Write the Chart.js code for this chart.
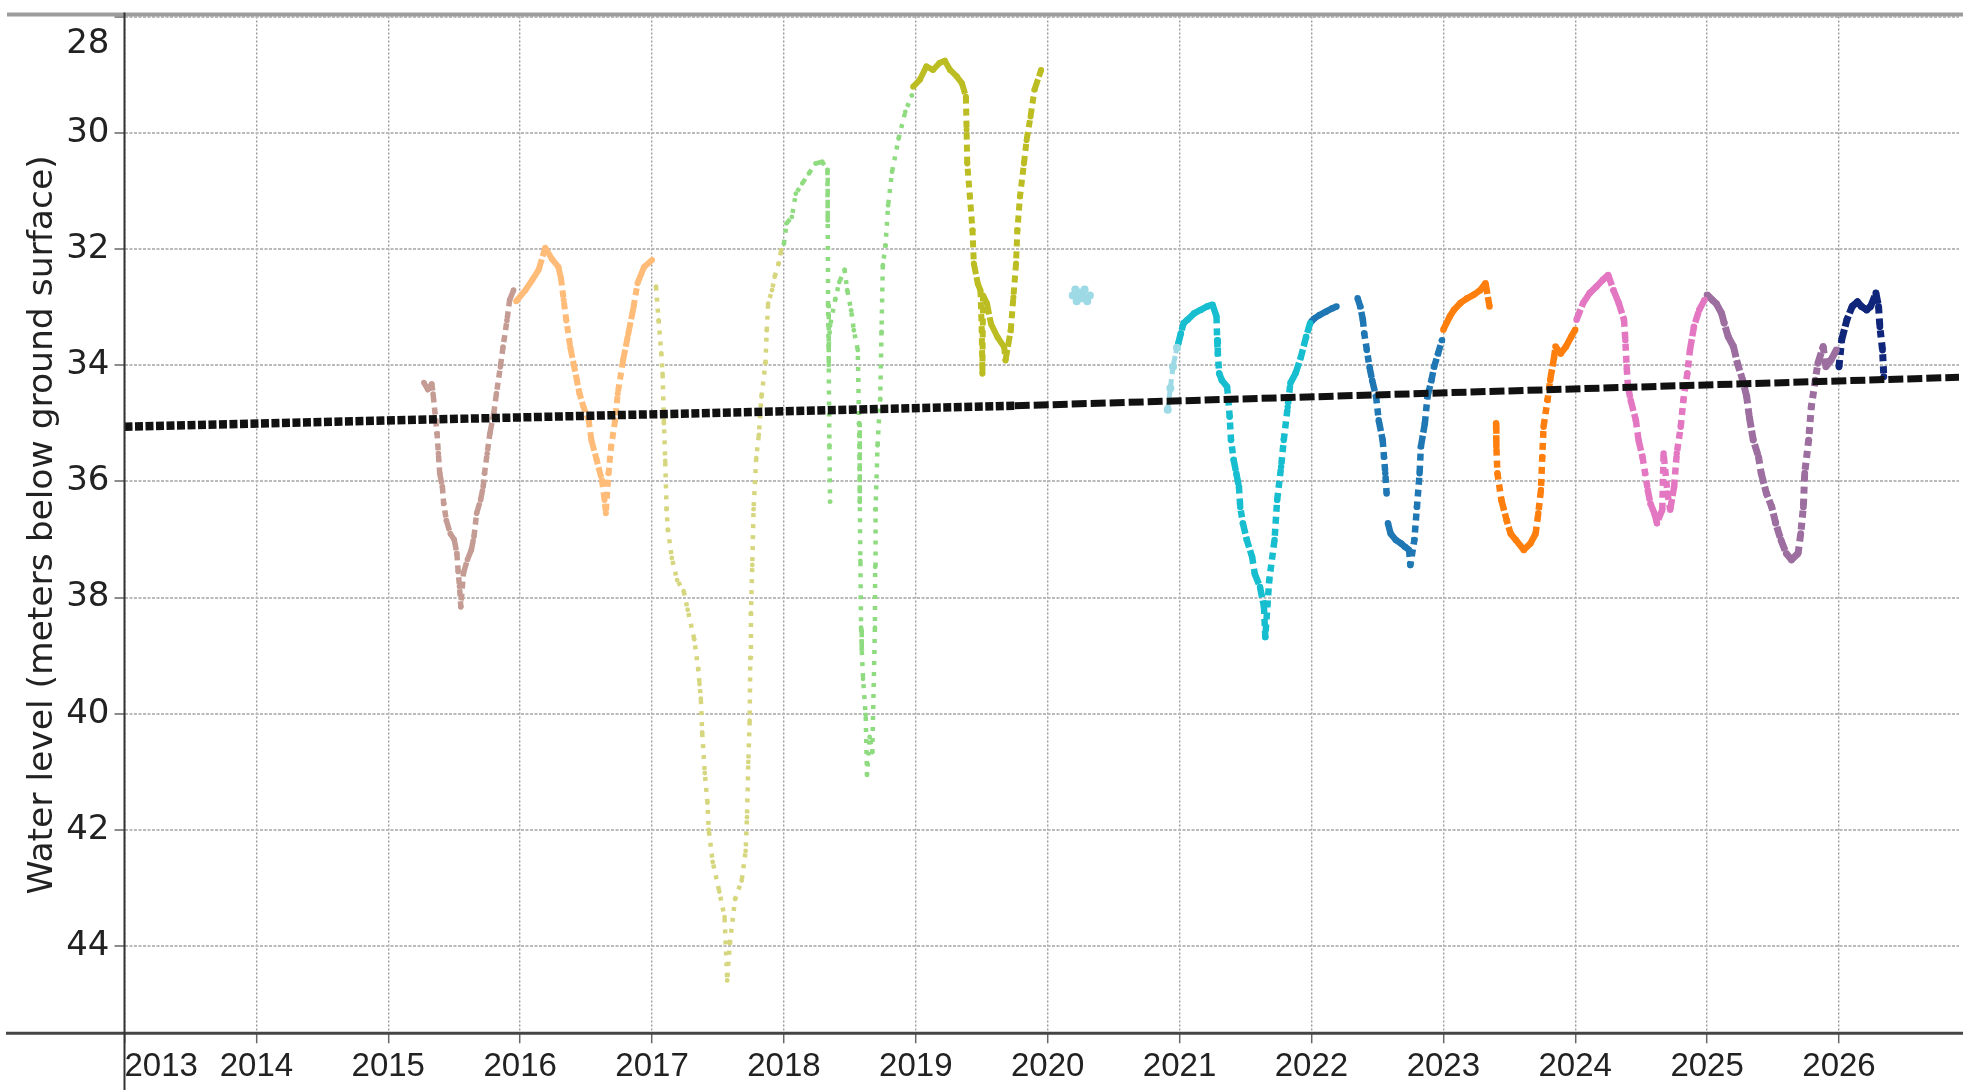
<!DOCTYPE html>
<html>
<head>
<meta charset="utf-8">
<title>Water level</title>
<script src="https://cdn.jsdelivr.net/npm/chart.js@4.4.1/dist/chart.umd.min.js"></script>
<style>
  html, body { margin: 0; padding: 0; background: #ffffff; }
  #chart { display: block; }
</style>
</head>
<body>
<canvas id="chart" width="1963" height="1090"></canvas>
<script>
// ---- axis ticks ----
const yearTicks = [2013, 2014, 2015, 2016, 2017, 2018, 2019, 2020, 2021, 2022, 2023, 2024, 2025, 2026];
const depthTicks = [28, 30, 32, 34, 36, 38, 40, 42, 44];
const yearMin = 2013, yearMax = 2026.91;
const depthTop = 28, depthBottom = 45.5;
const yTitle = 'Water level (meters below ground surface)';

// ---- long-term trend ----
const trendYear  = [2013, 2019.75, 2026.91];
const trendDepth = [35.06, 34.70, 34.21];

// ---- measured water levels by year (null = gap in the record) ----
const wy2015Year  = [2015.27, 2015.30, 2015.33, 2015.34, 2015.36, 2015.37, 2015.38, 2015.39, 2015.41, 2015.42, 2015.44, 2015.47, 2015.50, 2015.52, 2015.53, 2015.54, 2015.55, 2015.57, 2015.60, 2015.63, 2015.65, 2015.67, 2015.70, 2015.72, 2015.73, 2015.75, 2015.77, 2015.80, 2015.82, 2015.85, 2015.87, 2015.90, 2015.92, 2015.95];
const wy2015Depth = [34.30, 34.42, 34.32, 34.50, 34.95, 35.18, 35.52, 35.86, 36.09, 36.38, 36.67, 36.90, 37.00, 37.24, 37.55, 37.81, 38.16, 37.58, 37.35, 37.18, 36.95, 36.55, 36.32, 36.09, 35.86, 35.52, 35.18, 34.83, 34.49, 34.03, 33.69, 33.23, 32.88, 32.71];

const wy2016Year  = [2015.97, 2016.04, 2016.09, 2016.14, 2016.19, 2016.24, 2016.29, 2016.31, 2016.33, 2016.35, 2016.38, 2016.41, 2016.43, 2016.45, 2016.48, 2016.52, 2016.54, 2016.58, 2016.62, 2016.64, 2016.65, 2016.67, 2016.69, 2016.72, 2016.74, 2016.78, 2016.82, 2016.86, 2016.89, 2016.94, 2017.00];
const wy2016Depth = [32.90, 32.71, 32.54, 32.36, 31.98, 32.17, 32.31, 32.51, 32.88, 33.23, 33.69, 34.03, 34.26, 34.49, 34.72, 34.95, 35.29, 35.63, 35.98, 36.32, 36.55, 35.86, 35.40, 34.95, 34.49, 33.92, 33.46, 33.00, 32.59, 32.31, 32.19];

const wy2017Year  = [2017.03, 2017.05, 2017.07, 2017.08, 2017.09, 2017.10, 2017.11, 2017.12, 2017.15, 2017.19, 2017.24, 2017.27, 2017.32, 2017.35, 2017.36, 2017.37, 2017.38, 2017.40, 2017.42, 2017.43, 2017.46, 2017.51, 2017.55, 2017.57, 2017.59, 2017.63, 2017.68, 2017.71, 2017.72, 2017.73, 2017.74, 2017.745, 2017.75, 2017.76, 2017.77, 2017.79, 2017.81, 2017.83, 2017.86, 2017.87, 2017.88, 2017.91, 2017.93, 2017.96, 2017.98];
const wy2017Depth = [32.65, 33.23, 33.80, 34.15, 35.00, 35.65, 36.48, 36.83, 37.32, 37.70, 37.89, 38.21, 38.72, 39.23, 39.49, 39.74, 40.32, 41.02, 41.53, 42.00, 42.55, 43.06, 43.50, 44.59, 43.95, 43.19, 42.87, 42.36, 41.78, 40.83, 40.12, 39.04, 38.27, 37.44, 36.48, 35.60, 35.20, 34.54, 33.97, 33.40, 32.94, 32.71, 32.48, 32.25, 32.02];

const wy2018Year  = [2018.00, 2018.02, 2018.06, 2018.09, 2018.14, 2018.19, 2018.24, 2018.29, 2018.33, 2018.332, 2018.335, 2018.34, 2018.345, 2018.35, null, 2018.34, 2018.35, 2018.39, 2018.42, 2018.46, 2018.48, 2018.51, 2018.53, 2018.56, 2018.57, 2018.575, 2018.58, 2018.585, 2018.59, 2018.60, 2018.62, 2018.63, 2018.65, 2018.67, 2018.69, 2018.692, 2018.695, 2018.71, 2018.73, 2018.74, 2018.75, 2018.77, 2018.79, 2018.82, 2018.87, 2018.92, 2018.97];
const wy2018Depth = [31.91, 31.56, 31.45, 31.05, 30.87, 30.70, 30.53, 30.50, 30.64, 31.51, 32.97, 34.00, 35.38, 36.35, null, 33.66, 33.32, 32.86, 32.57, 32.36, 32.71, 33.06, 33.40, 33.74, 35.00, 36.35, 37.37, 38.52, 38.89, 39.40, 40.02, 41.05, 40.40, 40.66, 38.52, 37.47, 36.48, 35.38, 34.58, 33.43, 32.28, 31.94, 31.25, 30.67, 30.10, 29.64, 29.36];

const wy2019Year  = [2018.98, 2019.03, 2019.08, 2019.13, 2019.18, 2019.22, 2019.26, 2019.31, 2019.35, 2019.38, 2019.385, 2019.39, 2019.41, 2019.43, 2019.44, 2019.47, 2019.49, 2019.50, 2019.505, 2019.51, 2019.54, 2019.57, 2019.62, 2019.67, 2019.68, 2019.72, 2019.74, 2019.76, 2019.77, 2019.79, 2019.82, 2019.84, 2019.87, 2019.90, 2019.95];
const wy2019Depth = [29.21, 29.09, 28.86, 28.92, 28.80, 28.76, 28.92, 29.03, 29.15, 29.38, 29.95, 30.53, 31.10, 31.68, 32.25, 32.60, 32.71, 33.40, 34.15, 32.80, 32.94, 33.29, 33.52, 33.69, 33.92, 33.40, 32.83, 32.25, 31.68, 31.10, 30.53, 30.13, 29.72, 29.26, 28.92];

const wy2020Year  = [2020.19, 2020.21, 2020.22, 2020.24, 2020.26, 2020.28, 2020.30, 2020.32, null, 2020.91, 2020.93, 2020.95, 2020.98];
const wy2020Depth = [32.80, 32.70, 32.90, 32.75, 32.85, 32.70, 32.90, 32.80, null, 34.77, 34.40, 34.03, 33.70];

const wy2021Year  = [2020.99, 2021.01, 2021.03, 2021.06, 2021.11, 2021.16, 2021.21, 2021.25, 2021.28, 2021.285, 2021.29, 2021.30, 2021.32, 2021.36, 2021.37, 2021.38, 2021.39, 2021.41, 2021.43, 2021.45, 2021.46, 2021.48, 2021.51, 2021.55, 2021.57, 2021.61, 2021.64, 2021.65, 2021.68, 2021.72, 2021.74, 2021.77, 2021.79, 2021.82, 2021.84, 2021.88, 2021.92, 2021.96, 2021.99];
const wy2021Depth = [33.63, 33.45, 33.28, 33.22, 33.11, 33.05, 32.99, 32.96, 33.16, 33.57, 33.80, 34.14, 34.26, 34.37, 34.60, 34.89, 35.29, 35.63, 35.86, 36.09, 36.44, 36.72, 37.01, 37.30, 37.59, 37.82, 38.16, 38.68, 37.70, 37.01, 36.32, 35.75, 35.29, 34.72, 34.31, 34.14, 33.86, 33.51, 33.28];

const wy2022Year  = [2022.00, 2022.02, 2022.06, 2022.11, 2022.16, 2022.19, null, 2022.35, 2022.37, 2022.39, 2022.40, 2022.42, 2022.44, 2022.46, 2022.49, 2022.51, 2022.54, 2022.55, 2022.56, 2022.57, null, 2022.58, 2022.60, 2022.64, 2022.68, 2022.71, 2022.74, 2022.75, 2022.78, 2022.80, 2022.82, 2022.83, 2022.86, 2022.88, 2022.91, 2022.93, 2022.96, 2022.99];
const wy2022Depth = [33.25, 33.20, 33.14, 33.08, 33.02, 32.99, null, 32.85, 32.99, 33.22, 33.45, 33.74, 34.03, 34.26, 34.54, 34.95, 35.29, 35.58, 35.86, 36.21, null, 36.72, 36.90, 37.01, 37.07, 37.13, 37.18, 37.44, 37.01, 36.44, 35.86, 35.40, 35.00, 34.54, 34.26, 34.03, 33.80, 33.57];

const wy2023Year  = [2023.00, 2023.05, 2023.08, 2023.13, 2023.18, 2023.23, 2023.28, 2023.32, 2023.35, null, 2023.40, 2023.402, 2023.41, 2023.44, 2023.48, 2023.51, 2023.55, 2023.61, 2023.66, 2023.70, 2023.72, 2023.74, 2023.75, 2023.76, 2023.79, 2023.81, 2023.84, 2023.85, 2023.89, 2023.93, 2023.97, 2024.00];
const wy2023Depth = [33.39, 33.16, 33.05, 32.93, 32.85, 32.79, 32.71, 32.59, 32.99, null, 35.00, 35.40, 35.86, 36.32, 36.67, 36.90, 37.01, 37.18, 37.07, 36.90, 36.55, 36.15, 35.58, 35.06, 34.60, 34.26, 33.86, 33.68, 33.80, 33.68, 33.51, 33.39];

const wy2024Year  = [2024.01, 2024.06, 2024.11, 2024.16, 2024.21, 2024.25, 2024.29, 2024.33, 2024.37, 2024.38, 2024.39, 2024.40, 2024.42, 2024.46, 2024.48, 2024.51, 2024.53, 2024.55, 2024.57, 2024.60, 2024.62, 2024.66, 2024.67, 2024.70, 2024.72, 2024.75, 2024.77, 2024.80, 2024.82, 2024.85, 2024.87, 2024.90, 2024.94, 2024.98];
const wy2024Depth = [33.22, 32.93, 32.76, 32.65, 32.53, 32.45, 32.71, 32.93, 33.22, 33.57, 34.03, 34.37, 34.60, 34.95, 35.29, 35.58, 35.86, 36.15, 36.38, 36.55, 36.72, 36.49, 35.52, 36.21, 36.49, 36.09, 35.52, 35.06, 34.60, 34.14, 33.74, 33.34, 33.05, 32.88];

const wy2025Year  = [2025.00, 2025.04, 2025.07, 2025.11, 2025.13, 2025.16, 2025.20, 2025.23, 2025.27, 2025.30, 2025.32, 2025.35, 2025.39, 2025.41, 2025.45, 2025.49, 2025.52, 2025.56, 2025.60, 2025.64, 2025.69, 2025.71, 2025.73, 2025.74, 2025.77, 2025.79, 2025.82, 2025.84, 2025.88, 2025.90, 2025.94, 2025.98];
const wy2025Depth = [32.79, 32.88, 32.94, 33.11, 33.28, 33.51, 33.68, 33.97, 34.26, 34.54, 34.89, 35.29, 35.58, 35.86, 36.21, 36.44, 36.72, 37.01, 37.24, 37.35, 37.24, 36.90, 36.44, 35.86, 35.29, 34.72, 34.26, 33.97, 33.68, 34.03, 33.91, 33.74];

const wy2026Year  = [2026.00, 2026.02, 2026.06, 2026.10, 2026.14, 2026.17, 2026.21, 2026.24, 2026.28, 2026.30, 2026.31, 2026.33, 2026.34];
const wy2026Depth = [34.03, 33.57, 33.22, 32.99, 32.91, 32.99, 33.05, 32.99, 32.76, 32.99, 33.34, 33.74, 34.20];

// ---- how each year is drawn ----
const yearSeries = [
  { year: wy2015Year, depth: wy2015Depth, color: '#c49c94', width: 5.5, dot: 2.8, sparse: false },
  { year: wy2016Year, depth: wy2016Depth, color: '#ffbb78', width: 6,   dot: 3,   sparse: false },
  { year: wy2017Year, depth: wy2017Depth, color: '#d6d67f', width: 4.5, dot: 2.4, sparse: true },
  { year: wy2018Year, depth: wy2018Depth, color: '#8fdb80', width: 4.5, dot: 2.4, sparse: true },
  { year: wy2019Year, depth: wy2019Depth, color: '#bcbd22', width: 6,   dot: 3,   sparse: false },
  { year: wy2020Year, depth: wy2020Depth, color: '#9edae5', width: 5,   dot: 4,   sparse: false },
  { year: wy2021Year, depth: wy2021Depth, color: '#17becf', width: 6.5, dot: 3.2, sparse: false },
  { year: wy2022Year, depth: wy2022Depth, color: '#1f77b4', width: 6.5, dot: 3.2, sparse: false },
  { year: wy2023Year, depth: wy2023Depth, color: '#ff7f0e', width: 6.5, dot: 3.2, sparse: false },
  { year: wy2024Year, depth: wy2024Depth, color: '#e377c2', width: 6.5, dot: 3.2, sparse: false },
  { year: wy2025Year, depth: wy2025Depth, color: '#9d6fa0', width: 7,   dot: 3.4, sparse: false },
  { year: wy2026Year, depth: wy2026Depth, color: '#10267a', width: 7,   dot: 3.4, sparse: false }
];

const toPoints = (xs, ys) => xs.map((x, i) => ({ x: x, y: ys[i] }));

// steep stretches of the record are thinly sampled, so draw them broken
function segmentDash(sparse) {
  return (ctx) => {
    const dx = Math.abs(ctx.p1.x - ctx.p0.x);
    const dy = Math.abs(ctx.p1.y - ctx.p0.y);
    const r = dy / Math.max(dx, 0.5);
    if (sparse) return r > 1.2 ? [4, 7] : [6, 3];
    if (r < 2.5) return [];
    return r < 6 ? [11, 3] : [7, 5];
  };
}

const datasets = [
  {
    data: toPoints(trendYear.slice(0, 2), trendDepth.slice(0, 2)),
    borderColor: '#111111', borderWidth: 8.5, borderDash: [8, 2.5],
    pointRadius: 0, order: -2
  },
  {
    data: toPoints(trendYear.slice(1), trendDepth.slice(1)),
    borderColor: '#111111', borderWidth: 7, borderDash: [15, 4],
    pointRadius: 0, order: -1
  }
];

yearSeries.forEach((s) => {
  datasets.push({
    data: toPoints(s.year, s.depth),
    borderColor: s.color,
    backgroundColor: s.color,
    borderWidth: s.width,
    pointRadius: s.dot,
    pointBorderWidth: 0,
    pointBackgroundColor: s.color,
    spanGaps: false,
    segment: { borderDash: segmentDash(s.sparse) }
  });
});

// outer frame: axis lines that run past the plotting area
const axisFrame = {
  id: 'axisFrame',
  afterDatasetsDraw(chart) {
    const { ctx, chartArea: a, width, height } = chart;
    ctx.save();
    ctx.setLineDash([]);
    ctx.strokeStyle = '#9d9d9d';
    ctx.lineWidth = 4;
    ctx.beginPath(); ctx.moveTo(7, a.top - 2); ctx.lineTo(width, a.top - 2); ctx.stroke();
    ctx.strokeStyle = '#454545';
    ctx.lineWidth = 3;
    ctx.beginPath(); ctx.moveTo(6, a.bottom); ctx.lineTo(width, a.bottom); ctx.stroke();
    ctx.strokeStyle = '#333333';
    ctx.lineWidth = 2;
    ctx.beginPath(); ctx.moveTo(a.left, a.top - 4); ctx.lineTo(a.left, height); ctx.stroke();
    ctx.restore();
  }
};

const isYearTick = (c) => !!(c.tick && yearTicks.includes(c.tick.value));

new Chart(document.getElementById('chart'), {
  type: 'scatter',
  data: { datasets: datasets },
  plugins: [axisFrame],
  options: {
    responsive: false,
    animation: false,
    devicePixelRatio: 1,
    events: [],
    layout: { padding: { top: 16.5, left: 0, right: 0, bottom: 0 } },
    elements: { line: { tension: 0, borderCapStyle: 'butt', borderJoinStyle: 'round', fill: false } },
    datasets: { scatter: { showLine: true } },
    plugins: { legend: { display: false }, tooltip: { enabled: false } },
    scales: {
      x: {
        type: 'linear',
        position: 'bottom',
        min: yearMin,
        max: yearMax,
        afterBuildTicks: (s) => { s.ticks = yearTicks.concat([yearMax]).map((v) => ({ value: v })); },
        afterFit: (s) => { s.height = 56.7; s.paddingLeft = 0; s.paddingRight = 0; },
        ticks: {
          autoSkip: false, maxRotation: 0, minRotation: 0, align: 'inner', padding: 4,
          color: '#222222',
          font: { family: "'Liberation Sans', Arial, sans-serif", size: 33 },
          callback: (v) => (yearTicks.includes(v) ? String(v) : '')
        },
        grid: {
          color: (c) => (isYearTick(c) ? '#9a9a9a' : 'rgba(0,0,0,0)'),
          lineWidth: 1.4,
          tickLength: 10,
          tickColor: (c) => (isYearTick(c) ? '#666666' : 'rgba(0,0,0,0)'),
          tickWidth: 1.5, tickBorderDash: []
        },
        border: { display: false, dash: [2, 2] }
      },
      y: {
        type: 'linear',
        reverse: true,
        min: depthTop,
        max: depthBottom,
        afterBuildTicks: (s) => { s.ticks = depthTicks.map((v) => ({ value: v })); },
        afterFit: (s) => { s.width = 124.5; s.paddingTop = 0; s.paddingBottom = 0; },
        ticks: {
          autoSkip: false, padding: 5,
          color: '#222222',
          font: (c) => ({ family: "'DejaVu Sans', sans-serif", size: 34,
                          lineHeight: (c.tick && c.tick.value === 28) ? 1.6 : 1.2 }),
          callback: (v) => (v === 28 ? ['', '28'] : String(v))
        },
        grid: {
          color: '#bababa', lineWidth: 2,
          tickLength: 10, tickColor: '#666666', tickWidth: 1.5, tickBorderDash: []
        },
        border: { display: false, dash: [3, 1.5] },
        title: {
          display: true,
          text: yTitle,
          color: '#222222',
          font: { family: "'DejaVu Sans', sans-serif", size: 34.5 },
          padding: { top: 22, bottom: 0 }
        }
      }
    }
  }
});
</script>
</body>
</html>
